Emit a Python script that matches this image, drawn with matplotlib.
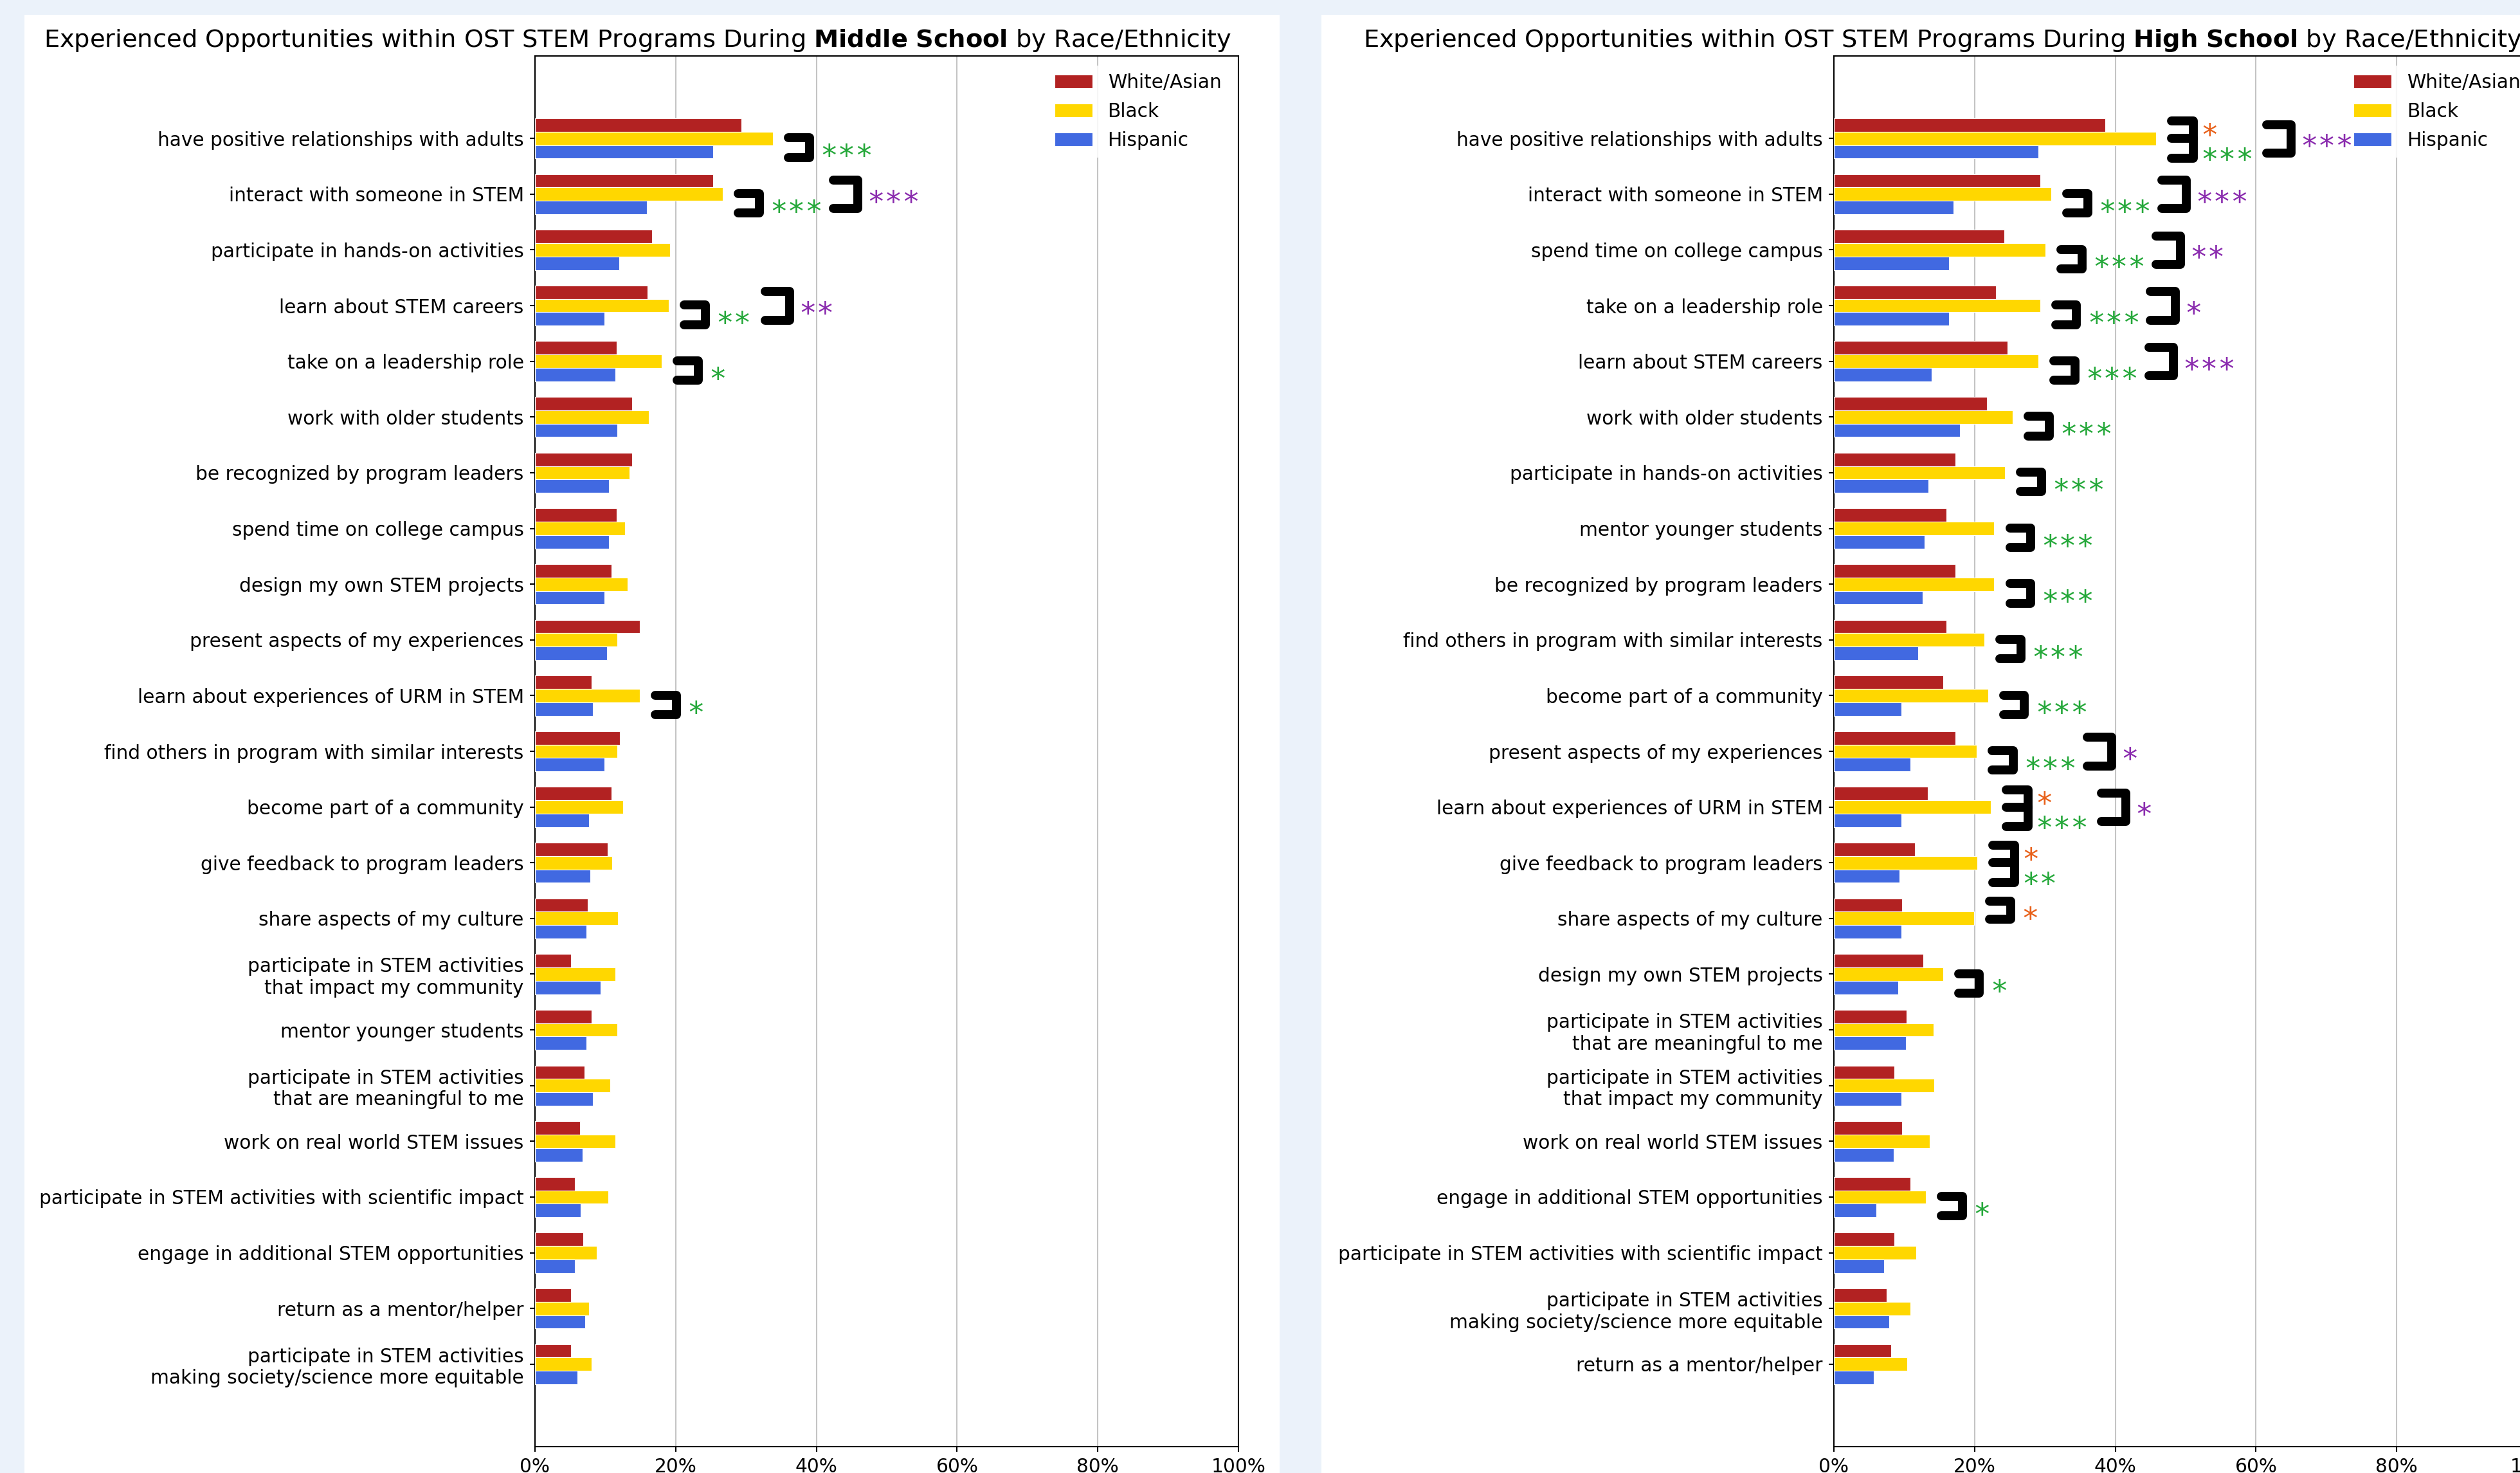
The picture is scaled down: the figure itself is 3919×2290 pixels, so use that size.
import matplotlib
matplotlib.use("Agg")
import matplotlib.pyplot as plt
from matplotlib.patches import Rectangle
from matplotlib.ticker import PercentFormatter

W, H, DPI = 3919, 2290, 100

groups = ["White/Asian", "Black", "Hispanic"]
group_colors = ["#B22222", "#FFD700", "#4169E1"]

# ---------------- Middle school ----------------
ms_items = [
    "have positive relationships with adults",
    "interact with someone in STEM",
    "participate in hands-on activities",
    "learn about STEM careers",
    "take on a leadership role",
    "work with older students",
    "be recognized by program leaders",
    "spend time on college campus",
    "design my own STEM projects",
    "present aspects of my experiences",
    "learn about experiences of URM in STEM",
    "find others in program with similar interests",
    "become part of a community",
    "give feedback to program leaders",
    "share aspects of my culture",
    "participate in STEM activities\nthat impact my community",
    "mentor younger students",
    "participate in STEM activities\nthat are meaningful to me",
    "work on real world STEM issues",
    "participate in STEM activities with scientific impact",
    "engage in additional STEM opportunities",
    "return as a mentor/helper",
    "participate in STEM activities\nmaking society/science more equitable",
]
ms_white = [29.3, 25.3, 16.6, 16.0, 11.6, 13.8, 13.8, 11.6, 10.9, 14.9, 8.0, 12.1,
            10.9, 10.3, 7.5, 5.1, 8.0, 7.0, 6.4, 5.7, 6.9, 5.1, 5.1]
ms_black = [33.8, 26.7, 19.2, 19.0, 18.0, 16.2, 13.4, 12.8, 13.2, 11.7, 14.9, 11.7,
            12.5, 11.0, 11.8, 11.4, 11.7, 10.7, 11.4, 10.4, 8.75, 7.7, 8.0]
ms_hisp = [25.3, 15.9, 12.0, 9.9, 11.4, 11.7, 10.5, 10.5, 9.9, 10.2, 8.2, 9.9,
           7.7, 7.9, 7.3, 9.3, 7.3, 8.2, 6.8, 6.5, 5.7, 7.1, 6.0]
# (row, pair, number of stars); WB = White/Asian vs Black, BH = Black vs Hispanic,
# WH = White/Asian vs Hispanic
ms_sig = [(0, "BH", 3), (1, "BH", 3), (1, "WH", 3), (3, "BH", 2), (3, "WH", 2),
          (4, "BH", 1), (10, "BH", 1)]

# ---------------- High school ----------------
hs_items = [
    "have positive relationships with adults",
    "interact with someone in STEM",
    "spend time on college campus",
    "take on a leadership role",
    "learn about STEM careers",
    "work with older students",
    "participate in hands-on activities",
    "mentor younger students",
    "be recognized by program leaders",
    "find others in program with similar interests",
    "become part of a community",
    "present aspects of my experiences",
    "learn about experiences of URM in STEM",
    "give feedback to program leaders",
    "share aspects of my culture",
    "design my own STEM projects",
    "participate in STEM activities\nthat are meaningful to me",
    "participate in STEM activities\nthat impact my community",
    "work on real world STEM issues",
    "engage in additional STEM opportunities",
    "participate in STEM activities with scientific impact",
    "participate in STEM activities\nmaking society/science more equitable",
    "return as a mentor/helper",
]
hs_white = [38.6, 29.3, 24.2, 23.0, 24.7, 21.8, 17.3, 16.0, 17.3, 16.0, 15.5, 17.3,
            13.3, 11.5, 9.7, 12.7, 10.3, 8.6, 9.7, 10.9, 8.6, 7.5, 8.1]
hs_black = [45.8, 30.9, 30.1, 29.3, 29.1, 25.4, 24.3, 22.8, 22.8, 21.4, 21.9, 20.3,
            22.3, 20.4, 19.9, 15.5, 14.2, 14.3, 13.6, 13.1, 11.7, 10.9, 10.4]
hs_hisp = [29.1, 17.0, 16.4, 16.4, 13.9, 17.9, 13.4, 12.9, 12.6, 12.0, 9.6, 10.9,
           9.6, 9.3, 9.6, 9.1, 10.2, 9.6, 8.5, 6.0, 7.1, 7.9, 5.7]
hs_sig = [(0, "WB", 1), (0, "BH", 3), (0, "WH", 3), (1, "BH", 3), (1, "WH", 3),
          (2, "BH", 3), (2, "WH", 2), (3, "BH", 3), (3, "WH", 1), (4, "BH", 3),
          (4, "WH", 3), (5, "BH", 3), (6, "BH", 3), (7, "BH", 3), (8, "BH", 3),
          (9, "BH", 3), (10, "BH", 3), (11, "BH", 3), (11, "WH", 1), (12, "WB", 1),
          (12, "BH", 3), (12, "WH", 1), (13, "WB", 1), (13, "BH", 2), (14, "WB", 1),
          (15, "BH", 1), (19, "BH", 1)]

# ---------------- styling ----------------
BG = "#EBF2FA"
TICK_FS = 21.3
TITLE_FS = 27.6
STAR_FS = 33
STAR_FONT = "DejaVu Sans Mono"
BAR_H = 0.24
STAR_COLORS = {"WB": "#E8611A", "BH": "#25A83A", "WH": "#8A2BAE"}
PAIR_Y = {"WB": (-0.31, 0.01), "BH": (-0.01, 0.34), "WH": (-0.25, 0.26)}
STAR_Y_SINGLE = {"WB": -0.13, "BH": 0.175, "WH": 0.0}
STAR_Y_DOUBLE = {"WB": -0.2, "BH": 0.24}
BR_LW = 10
STAR_BASE = 0.31  # data units between asterisk ink centre and baseline


def px_axes(x0, x1, y0, y1):
    return [x0 / W, 1 - y1 / H, (x1 - x0) / W, (y1 - y0) / H]


def bracket(ax, x0, length, ys):
    """Draw a bracket (or a double bracket) opening to the left."""
    kw = dict(color="black", lw=BR_LW, solid_capstyle="round",
              solid_joinstyle="round", zorder=5)
    ys = sorted(ys)
    xv = x0 + length
    ax.plot([x0, xv, xv, x0], [ys[0], ys[0], ys[-1], ys[-1]], **kw)
    for y in ys[1:-1]:
        ax.plot([x0, xv], [y, y], **kw)
    return xv


def stars(ax, x, y, n, pair):
    ax.text(x, y + STAR_BASE, "*" * n, color=STAR_COLORS[pair], fontsize=STAR_FS,
            family=STAR_FONT, ha="left", va="baseline", zorder=6)


def draw_panel(ax, items, white, black, hisp, sig):
    n = len(items)
    ys = list(range(n))
    vals = [white, black, hisp]
    offs = [-BAR_H, 0, BAR_H]
    for v, off, c, lab in zip(vals, offs, group_colors, groups):
        ax.barh([y + off for y in ys], v, height=BAR_H, color=c, edgecolor="white",
                linewidth=0.8, label=lab, zorder=3)
    ax.set_xlim(0, 100)
    ax.set_ylim(n - 1 + 1.48, -1.48)
    ax.set_yticks(ys)
    ax.set_yticklabels(items, fontsize=TICK_FS)
    ax.set_xticks([0, 20, 40, 60, 80, 100])
    ax.xaxis.set_major_formatter(PercentFormatter(xmax=100, decimals=0))
    ax.tick_params(axis="x", labelsize=TICK_FS, length=6, width=1.5, pad=6.5)
    ax.tick_params(axis="y", length=6, width=1.5, pad=6.5)
    ax.grid(axis="x", color="#c4c4c4", linewidth=1.5)
    ax.set_axisbelow(True)
    for s in ax.spines.values():
        s.set_linewidth(1.5)
        s.set_color("black")
    leg = ax.legend(loc="upper right", fontsize=TICK_FS, frameon=True,
                    facecolor="white", edgecolor="none", framealpha=0.85,
                    labelspacing=0.55)
    leg.set_zorder(2)

    rows = {}
    for r, pair, k in sig:
        rows.setdefault(r, {})[pair] = k
    for r, d in rows.items():
        top = max(white[r], black[r], hisp[r])
        x1 = top + 2.2
        lvl1 = [p for p in ("WB", "BH") if p in d]
        n1 = 0
        if lvl1:
            if len(lvl1) == 2:
                yset = [r - 0.31, r, r + 0.35]
                xv = bracket(ax, x1, 3.1, yset)
                for p in lvl1:
                    stars(ax, xv + 1.0, r + STAR_Y_DOUBLE[p], d[p], p)
            else:
                p = lvl1[0]
                a, b = PAIR_Y[p]
                xv = bracket(ax, x1, 3.0, [r + a, r + b])
                stars(ax, xv + 1.5, r + STAR_Y_SINGLE[p], d[p], p)
            n1 = max(d[p] for p in lvl1)
        if "WH" in d:
            x2 = x1 + 7.5 + 2.0 * n1 if lvl1 else x1
            a, b = PAIR_Y["WH"]
            xv = bracket(ax, x2, 3.5, [r + a, r + b])
            stars(ax, xv + 1.3, r + STAR_Y_SINGLE["WH"], d["WH"], "WH")


fig = plt.figure(figsize=(W / DPI, H / DPI), dpi=DPI, facecolor=BG)
fig.add_artist(Rectangle((38 / W, 0), (1990 - 38) / W, 1 - 23 / H,
                         transform=fig.transFigure, facecolor="white",
                         edgecolor="none", zorder=-10))
fig.add_artist(Rectangle((2055 / W, 0), (W - 2055) / W, 1 - 23 / H,
                         transform=fig.transFigure, facecolor="white",
                         edgecolor="none", zorder=-10))

ax1 = fig.add_axes(px_axes(832, 1926, 87, 2249))
ax2 = fig.add_axes(px_axes(2852, 3946, 87, 2249))
draw_panel(ax1, ms_items, ms_white, ms_black, ms_hisp, ms_sig)
draw_panel(ax2, hs_items, hs_white, hs_black, hs_hisp, hs_sig)

fig.text(68 / W, 1 - 73 / H,
         "Experienced Opportunities within OST STEM Programs During "
         r"$\bf{Middle\ School}$ by Race/Ethnicity",
         fontsize=TITLE_FS, ha="left", va="baseline")
fig.text(2120 / W, 1 - 73 / H,
         "Experienced Opportunities within OST STEM Programs During "
         r"$\bf{High\ School}$ by Race/Ethnicity",
         fontsize=TITLE_FS, ha="left", va="baseline")

fig.savefig("out.png", dpi=DPI, facecolor=BG)
